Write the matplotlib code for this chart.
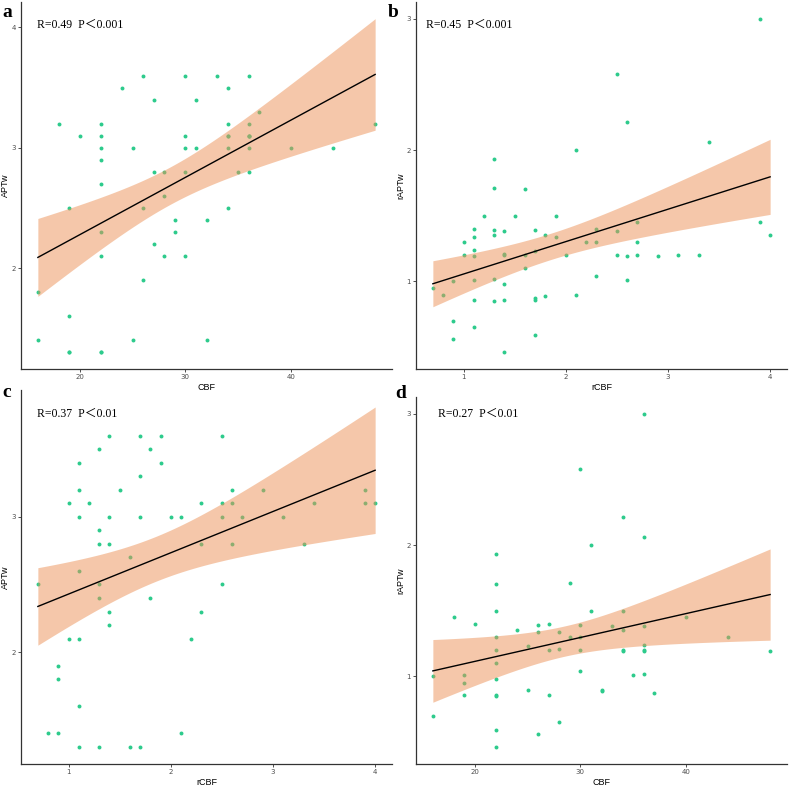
import numpy as np
import matplotlib
matplotlib.use("Agg")
import matplotlib.pyplot as plt

# panel a: CBF vs APTw (last five are hidden duplicates under visible dots)
a_cbf = [26, 30, 33, 36, 24, 34, 27, 31, 37, 18, 22, 34, 36, 48, 20, 22, 30, 34, 36,
         22, 25, 30, 31, 34, 36, 40, 44, 22, 27, 28, 30, 35, 36, 22, 28, 19, 26, 34,
         29, 32, 22, 29, 27, 22, 28, 30, 26, 16, 19, 16, 25, 32, 19, 22,
         36, 36, 34, 19, 22]
a_aptw = [3.6, 3.6, 3.6, 3.6, 3.5, 3.5, 3.4, 3.4, 3.3, 3.2, 3.2, 3.2, 3.2, 3.2, 3.1, 3.1, 3.1, 3.1, 3.1,
          3.0, 3.0, 3.0, 3.0, 3.0, 3.0, 3.0, 3.0, 2.9, 2.8, 2.8, 2.8, 2.8, 2.8, 2.7, 2.6, 2.5, 2.5, 2.5,
          2.4, 2.4, 2.3, 2.3, 2.2, 2.1, 2.1, 2.1, 1.9, 1.8, 1.6, 1.4, 1.4, 1.4, 1.3, 1.3,
          3.1, 3.1, 3.1, 1.3, 1.3]

# panel b: rCBF vs rAPTw
b_rcbf = [3.9, 2.5, 2.6, 3.4, 2.1, 1.3, 1.3, 1.6, 1.2, 1.5, 1.9, 1.1, 1.3, 1.4, 1.7, 2.3,
          2.5, 2.7, 3.9, 1.1, 1.3, 1.8, 1.9, 4.0, 1.0, 2.2, 2.3, 2.7, 1.1, 1.0, 1.1, 1.4,
          1.4, 1.6, 1.7, 2.0, 2.5, 2.6, 2.7, 2.9, 3.1, 3.3, 1.6, 2.3, 2.6, 1.3, 1.1, 0.9,
          1.4, 0.7, 0.8, 2.1, 1.8, 1.1, 1.3, 1.4, 1.7, 1.7, 0.9, 1.1, 1.7, 0.9, 1.4]
b_raptw = [3.0, 2.58, 2.21, 2.06, 2.0, 1.93, 1.71, 1.70, 1.50, 1.50, 1.50, 1.40, 1.39, 1.38, 1.39, 1.40,
           1.38, 1.45, 1.45, 1.34, 1.35, 1.35, 1.34, 1.35, 1.30, 1.30, 1.30, 1.30, 1.24, 1.20, 1.19, 1.21,
           1.20, 1.20, 1.23, 1.20, 1.20, 1.19, 1.20, 1.19, 1.20, 1.20, 1.10, 1.04, 1.01, 1.02, 1.01, 1.00,
           0.98, 0.95, 0.90, 0.90, 0.89, 0.86, 0.85, 0.86, 0.87, 0.86, 0.70, 0.65, 0.59, 0.56, 0.46]

# panel c: rCBF vs APTw
c_rcbf = [1.4, 1.7, 1.9, 2.5, 1.3, 1.8, 1.1, 1.9, 1.7, 1.1, 1.5, 2.6, 2.9, 3.9, 1.0, 1.2,
          2.3, 2.5, 2.6, 3.4, 3.9, 4.0, 1.1, 1.4, 1.7, 2.0, 2.1, 2.5, 2.7, 3.1, 1.3, 1.3,
          1.4, 2.3, 2.6, 3.3, 1.6, 1.1, 0.7, 1.3, 2.5, 1.3, 1.8, 1.4, 2.3, 1.4, 1.0, 1.1,
          2.2, 0.9, 0.9, 1.1, 0.8, 0.9, 2.1, 1.1, 1.3, 1.6, 1.7]
c_aptw = [3.6, 3.6, 3.6, 3.6, 3.5, 3.5, 3.4, 3.4, 3.3, 3.2, 3.2, 3.2, 3.2, 3.2, 3.1, 3.1,
          3.1, 3.1, 3.1, 3.1, 3.1, 3.1, 3.0, 3.0, 3.0, 3.0, 3.0, 3.0, 3.0, 3.0, 2.9, 2.8,
          2.8, 2.8, 2.8, 2.8, 2.7, 2.6, 2.5, 2.5, 2.5, 2.4, 2.4, 2.3, 2.3, 2.2, 2.1, 2.1,
          2.1, 1.9, 1.8, 1.6, 1.4, 1.4, 1.4, 1.3, 1.3, 1.3, 1.3]

# panel d: CBF vs rAPTw
d_cbf = [36, 30, 34, 36, 31, 22, 22, 29, 22, 31, 34, 18, 40, 20, 26, 27, 30, 33, 36, 24,
         26, 28, 34, 22, 29, 30, 44, 25, 36, 22, 27, 28, 30, 34, 34, 36, 36, 48, 22, 30,
         36, 19, 35, 16, 22, 19, 25, 32, 32, 37, 19, 22, 22, 27, 16, 28, 22, 26, 22]
d_raptw = [3.0, 2.58, 2.21, 2.06, 2.0, 1.93, 1.70, 1.71, 1.50, 1.50, 1.50, 1.45, 1.45, 1.40, 1.39, 1.40,
           1.39, 1.38, 1.38, 1.35, 1.34, 1.34, 1.35, 1.30, 1.30, 1.30, 1.30, 1.23, 1.24, 1.20, 1.20,
           1.21, 1.20, 1.20, 1.19, 1.20, 1.19, 1.19, 1.10, 1.04, 1.02, 1.01, 1.01, 1.00, 0.98, 0.95,
           0.90, 0.90, 0.89, 0.87, 0.86, 0.86, 0.85, 0.86, 0.70, 0.65, 0.59, 0.56, 0.46]

PANELS = [
    ("a", a_cbf, a_aptw, "CBF", "APTw", "R=0.49  P\uff1c0.001", [20, 30, 40], [2, 3, 4]),
    ("b", b_rcbf, b_raptw, "rCBF", "rAPTw", "R=0.45  P\uff1c0.001", [1, 2, 3, 4], [1, 2, 3]),
    ("c", c_rcbf, c_aptw, "rCBF", "APTw", "R=0.37  P\uff1c0.01", [1, 2, 3, 4], [2, 3]),
    ("d", d_cbf, d_raptw, "CBF", "rAPTw", "R=0.27  P\uff1c0.01", [20, 30, 40], [1, 2, 3]),
]

W, H = 789, 787
# axes boxes in pixels: left, top, right, bottom
BOXES = [(21, 2, 392, 369), (416, 2, 787, 369), (21, 390, 392, 764), (416, 397, 787, 764)]
TEXT_X = [0.043, 0.027, 0.043, 0.059]
TEXT_Y = [25, 25, 414, 414]
TAG_POS = [(2, 17), (388, 17), (2, 397), (395, 398)]

POINT_COLOR = "#2DCB8C"
RIBBON_COLOR = "#EC9156"
SERIF = ["Liberation Serif", "Noto Sans CJK SC"]


def fit_with_ci(x, y, xs):
    # ordinary least squares with 95% confidence band of the mean, like geom_smooth(method="lm")
    x = np.asarray(x, float)
    y = np.asarray(y, float)
    n = len(x)
    slope, intercept = np.polyfit(x, y, 1)
    resid = y - (intercept + slope * x)
    s = np.sqrt(np.sum(resid ** 2) / (n - 2))
    sxx = np.sum((x - x.mean()) ** 2)
    yhat = intercept + slope * xs
    se = s * np.sqrt(1.0 / n + (xs - x.mean()) ** 2 / sxx)
    t = 2.0
    return yhat, yhat - t * se, yhat + t * se


fig = plt.figure(figsize=(W / 100, H / 100), dpi=100)
for (tag, xv, yv, xlab, ylab, note, xt, yt), box, tx, ty, (gx, gy) in zip(
        PANELS, BOXES, TEXT_X, TEXT_Y, TAG_POS):
    l, t, r, b = box
    ax = fig.add_axes([l / W, 1 - b / H, (r - l) / W, (b - t) / H])
    xs = np.linspace(min(xv), max(xv), 200)
    yhat, lo, hi = fit_with_ci(xv, yv, xs)
    ax.scatter(xv, yv, s=8, color=POINT_COLOR, linewidths=0, zorder=2)
    ax.fill_between(xs, lo, hi, color=RIBBON_COLOR, alpha=0.5, linewidth=0, zorder=3)
    ax.plot(xs, yhat, color="black", linewidth=1.0, zorder=4)

    xr = max(xv) - min(xv)
    ax.set_xlim(min(xv) - 0.05 * xr, max(xv) + 0.05 * xr)
    ymin = min(min(yv), lo.min())
    ymax = max(max(yv), hi.max())
    yr = ymax - ymin
    ax.set_ylim(ymin - 0.05 * yr, ymax + 0.05 * yr)

    ax.set_xticks(xt)
    ax.set_yticks(yt)
    ax.tick_params(labelsize=5, length=2, width=0.6, pad=1.5, colors="#333333", labelcolor="#4D4D4D")
    for side in ("top", "right"):
        ax.spines[side].set_visible(False)
    for side in ("left", "bottom"):
        ax.spines[side].set_color("#333333")
        ax.spines[side].set_linewidth(0.9)
    ax.set_xlabel(xlab, fontsize=6.5, family="Liberation Sans", labelpad=2)
    ax.set_ylabel(ylab, fontsize=6.5, family="Liberation Sans", labelpad=1)
    fig.text((l + tx * (r - l)) / W, 1 - ty / H, note, ha="left", va="center",
             fontsize=8.5, family=SERIF)
    fig.text(gx / W, 1 - gy / H, tag, fontsize=14, fontweight="bold",
             family="Liberation Serif", ha="left", va="baseline")

fig.savefig("out.png", dpi=100)
